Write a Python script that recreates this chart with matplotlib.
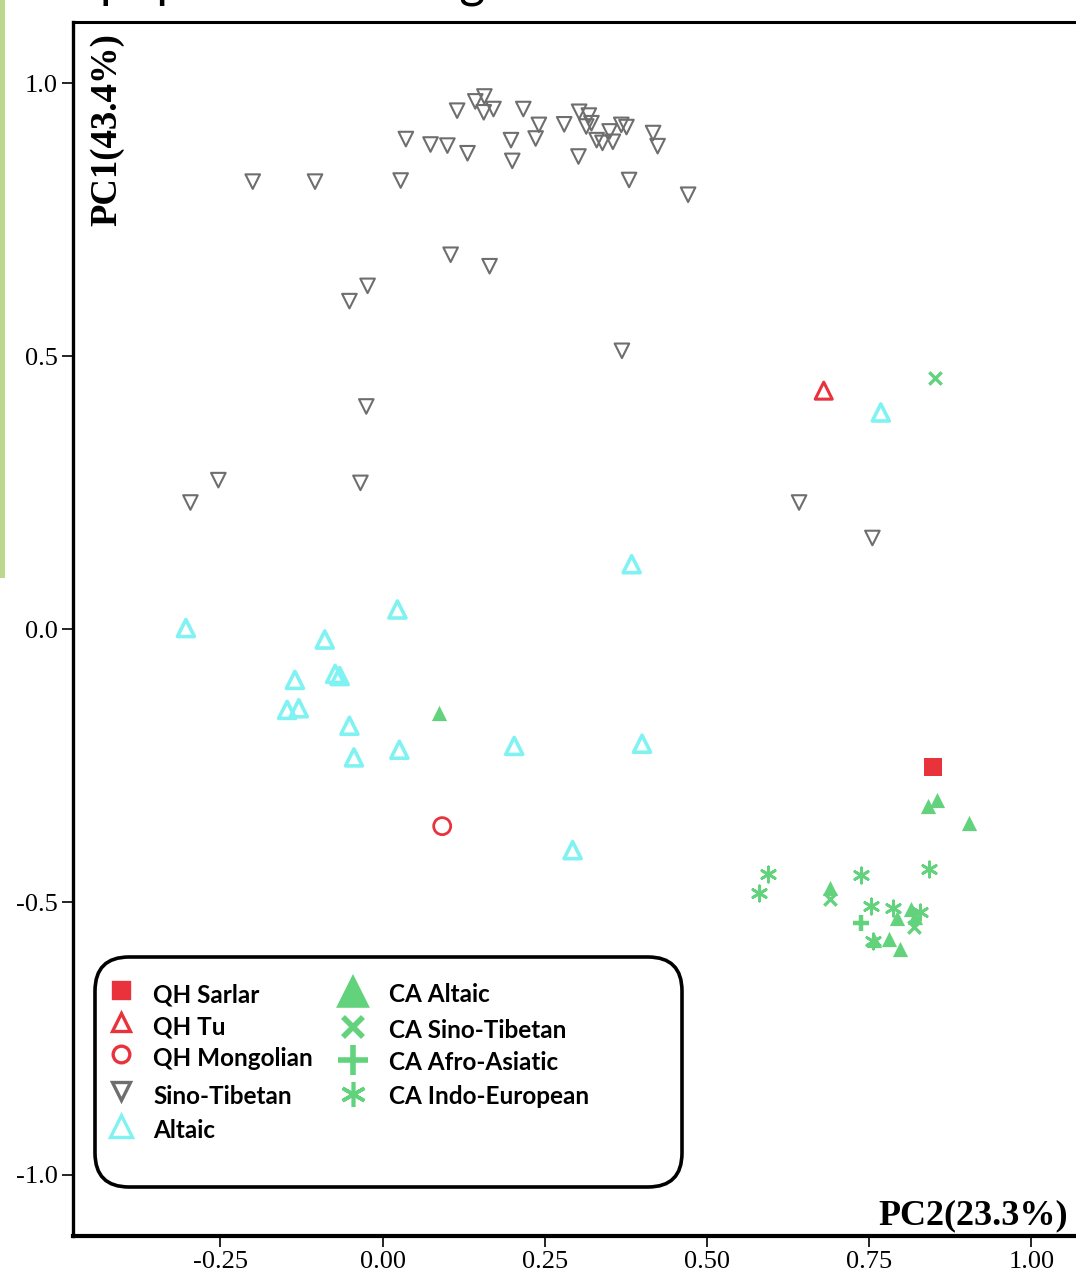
import matplotlib.pyplot as plt
from matplotlib.patches import FancyBboxPatch, Rectangle

# PCA scores: PC2 on x, PC1 on y
sino_x = [-0.200, -0.104, 0.028, 0.036, 0.074, 0.100, 0.131, 0.115, 0.143, 0.157,
          0.156, 0.171, 0.198, 0.200, 0.217, 0.236, 0.241, 0.280, 0.302, 0.303,
          0.318, 0.322, 0.314, 0.330, 0.339, 0.350, 0.355, 0.368, 0.376, 0.417,
          0.424, 0.380, 0.471, 0.105, 0.165, -0.023, -0.051, 0.369, -0.025, -0.253,
          -0.296, -0.034, 0.642, 0.755]
sino_y = [0.820, 0.820, 0.822, 0.898, 0.888, 0.886, 0.872, 0.950, 0.967, 0.976,
          0.947, 0.953, 0.896, 0.858, 0.953, 0.899, 0.924, 0.925, 0.866, 0.948,
          0.941, 0.927, 0.921, 0.896, 0.891, 0.912, 0.893, 0.924, 0.920, 0.909,
          0.885, 0.823, 0.796, 0.686, 0.665, 0.629, 0.601, 0.510, 0.408, 0.273,
          0.232, 0.268, 0.232, 0.167]

altaic_x = [-0.303, 0.023, -0.089, -0.135, -0.073, -0.066, -0.147, -0.129, -0.051, -0.044,
            0.026, 0.203, 0.400, 0.293, 0.384, 0.768]
altaic_y = [0.002, 0.036, -0.019, -0.093, -0.082, -0.086, -0.148, -0.145, -0.177, -0.235,
            -0.221, -0.214, -0.210, -0.405, 0.119, 0.397]

sarlar_x, sarlar_y = [0.848], [-0.253]
tu_x, tu_y = [0.680], [0.437]
mongol_x, mongol_y = [0.092], [-0.361]

ca_alt_x = [0.087, 0.841, 0.855, 0.904, 0.689, 0.793, 0.814, 0.820, 0.757, 0.780, 0.797]
ca_alt_y = [-0.153, -0.324, -0.313, -0.356, -0.475, -0.530, -0.513, -0.528, -0.569, -0.568, -0.586]

ca_st_x = [0.851, 0.690, 0.819]
ca_st_y = [0.460, -0.495, -0.545]

ca_aa_x, ca_aa_y = [0.737], [-0.539]

ca_ie_x = [0.594, 0.580, 0.738, 0.842, 0.753, 0.787, 0.828, 0.756]
ca_ie_y = [-0.449, -0.484, -0.450, -0.439, -0.508, -0.511, -0.518, -0.571]

xticks = [-0.25, 0.00, 0.25, 0.50, 0.75, 1.00]
yticks = [1.0, 0.5, 0.0, -0.5, -1.0]

RED = '#E8323C'
GREY = '#6E6E6E'
CYAN = '#80F2F2'
GREEN = '#62D37C'
STAR = (6, 2, 0)

W, H = 1076, 1269
fig = plt.figure(figsize=(W / 100, H / 100), dpi=100)

# axes frame: left spine at x=73px, top 22px, bottom 1236px, right edge off the picture
ax = fig.add_axes([73 / W, 1 - 1236 / H, 1020 / W, (1236 - 22) / H])
ax.set_xlim(-0.477, 1.095)
ax.set_ylim(-1.112, 1.1125)

ax.scatter(sino_x, sino_y, marker='v', s=110, facecolors='none', edgecolors=GREY, linewidths=1.5)
ax.scatter(altaic_x, altaic_y, marker='^', s=150, facecolors='none', edgecolors=CYAN, linewidths=2.6)
ax.scatter(tu_x, tu_y, marker='^', s=150, facecolors='none', edgecolors=RED, linewidths=2.2)
ax.scatter(mongol_x, mongol_y, marker='o', s=150, facecolors='none', edgecolors=RED, linewidths=2)
ax.scatter(ca_alt_x, ca_alt_y, marker='^', s=120, color=GREEN, linewidths=0)
ax.scatter(ca_st_x, ca_st_y, marker='x', s=80, color=GREEN, linewidths=2.4)
ax.scatter(ca_aa_x, ca_aa_y, marker='+', s=130, color=GREEN, linewidths=3.2)
ax.scatter(ca_ie_x, ca_ie_y, marker=STAR, s=120, color=GREEN, linewidths=2)
ax.scatter(sarlar_x, sarlar_y, marker='s', s=180, color=RED, linewidths=0)

ax.set_xticks(xticks)
ax.set_xticklabels([f'{v:.2f}' for v in xticks])
ax.set_yticks(yticks)
ax.set_yticklabels([f'{v:.1f}' for v in yticks])
ax.tick_params(direction='out', length=8, width=1.2, labelsize=19, pad=3)
for lab in ax.get_xticklabels() + ax.get_yticklabels():
    lab.set_family('Liberation Serif')
ax.spines['left'].set_linewidth(2.4)
ax.spines['top'].set_linewidth(2.2)
ax.spines['bottom'].set_linewidth(3)
ax.spines['right'].set_visible(False)

# overlay in pixel coordinates for the labels, legend and page fragments
ov = fig.add_axes([0, 0, 1, 1], facecolor='none')
ov.set_xlim(0, W)
ov.set_ylim(H, 0)
ov.axis('off')

ov.add_patch(Rectangle((0, 0), 5, 578, color='#BDD88C', lw=0))
# caption line above the chart, cut off by the top edge of the picture
ov.text(100, -3, 'populations using', fontsize=36, family='Lato', va='baseline', ha='left')

ov.text(107, 33, 'PC1(43.4%)', rotation=90, fontsize=26.5, fontweight='bold',
        family='Liberation Serif', ha='center', va='top')
ov.text(1068, 1224, 'PC2(23.3%)', fontsize=26, fontweight='bold',
        family='Liberation Serif', ha='right', va='baseline')

ov.add_patch(FancyBboxPatch((127, 989), 523, 166, boxstyle='round,pad=32,rounding_size=34',
                            facecolor='white', edgecolor='black', lw=2.6, zorder=3))

col1 = [('QH Sarlar', 's', RED, True, 12),
        ('QH Tu', '^', RED, False, 13),
        ('QH Mongolian', 'o', RED, False, 12),
        ('Sino-Tibetan', 'v', GREY, False, 13),
        ('Altaic', '^', CYAN, False, 16)]
col1_y = [995, 1027, 1059, 1096, 1131]
col2 = [('CA Altaic', '^', GREEN, True, 20),
        ('CA Sino-Tibetan', 'x', GREEN, True, 15),
        ('CA Afro-Asiatic', '+', GREEN, True, 21),
        ('CA Indo-European', STAR, GREEN, True, 18)]
col2_y = [995, 1030, 1063, 1097]

for (lab, m, c, filled, ms), y in zip(col1, col1_y):
    ov.plot(121, y - 5, marker=m, ms=ms, color=c, mfc=c if filled else 'none',
            mew=2.4, zorder=4)
    ov.text(153, y, lab, fontsize=17.5, fontweight='bold', family='Lato',
            va='center', ha='left', zorder=4)
for (lab, m, c, filled, ms), y in zip(col2, col2_y):
    ov.plot(353, y - 3, marker=m, ms=ms, color=c, mew=4 if m in ('x', '+') else 2.6,
            zorder=4)
    ov.text(389, y, lab, fontsize=17.5, fontweight='bold', family='Lato',
            va='center', ha='left', zorder=4)

fig.savefig('out.png', dpi=100)
